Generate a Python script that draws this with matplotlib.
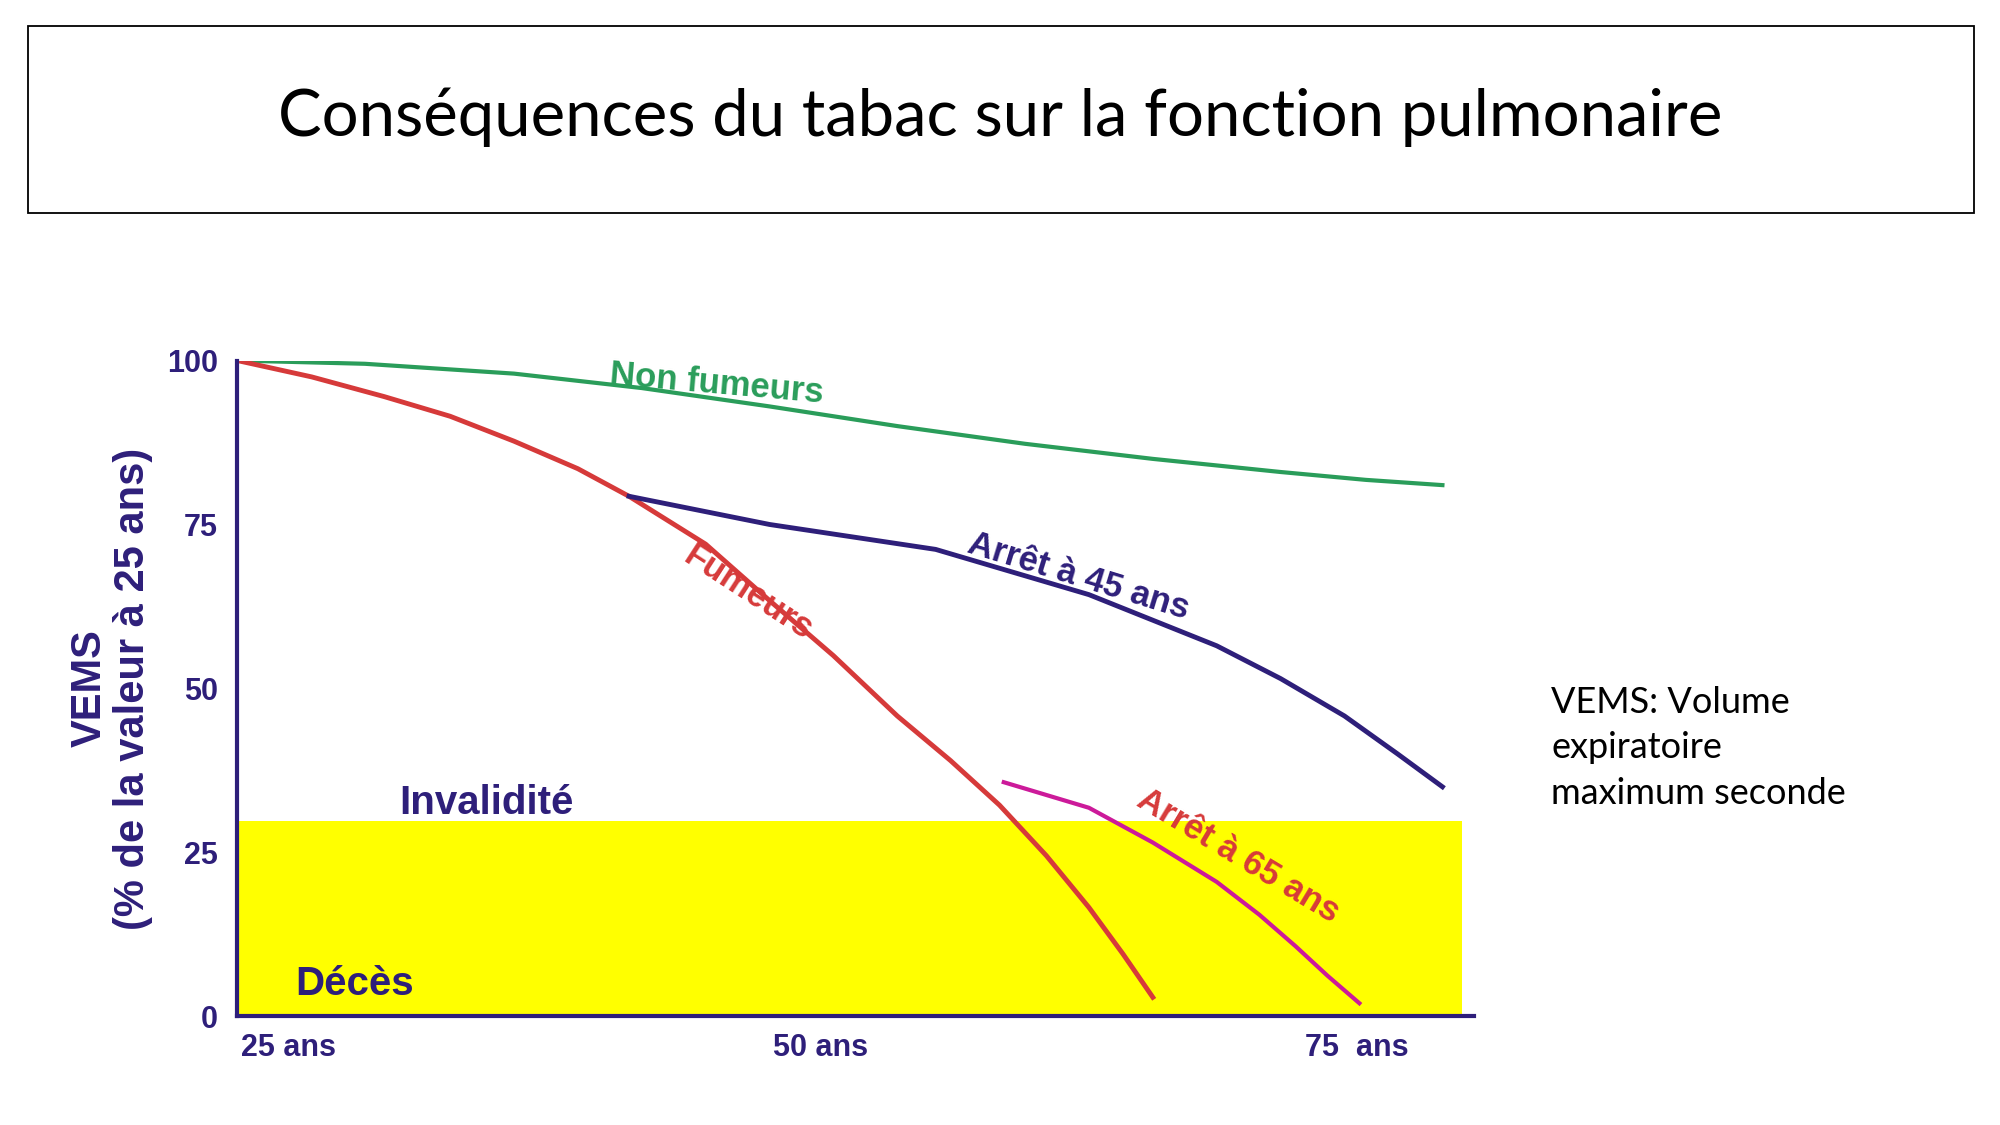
import matplotlib
matplotlib.use("Agg")
import matplotlib.pyplot as plt
from matplotlib.patches import Rectangle

# Data (age, VEMS %)
non_fumeurs_age = [25, 31, 38, 44, 50, 56, 62, 68, 74, 78, 81.6]
non_fumeurs_val = [100, 99.5, 98, 95.8, 93, 90, 87.3, 85, 83, 81.8, 81]
fumeurs_age = [25, 28.5, 31.9, 35, 38, 41, 43.4, 47, 50, 53, 56, 58.5, 60.8, 63, 65, 66.6, 68]
fumeurs_val = [100, 97.5, 94.5, 91.5, 87.7, 83.5, 79.3, 72, 63.4, 55, 45.8, 39, 32.2, 24.5, 16.6, 9.5, 2.9]
arret45_age = [43.4, 50, 57.8, 65, 71, 74, 77, 79.5, 81.6]
arret45_val = [79.3, 75, 71.2, 64.3, 56.5, 51.5, 45.8, 40, 35]
arret65_age = [61, 65, 68, 71, 73, 74.7, 76.2, 77.7]
arret65_val = [35.7, 31.8, 26.5, 20.5, 15.5, 10.7, 6.2, 2]
y_ticks = [0, 25, 50, 75, 100]
x_tick_labels = ["25 ans", "50 ans", "75  ans"]

fig = plt.figure(figsize=(20, 11.25), dpi=100)
SANS = ["Liberation Sans", "DejaVu Sans"]
TITLEF = ["Lato", "DejaVu Sans"]

# Title box
fig.patches.append(Rectangle((22/1560, 1-167/880), (1540-22)/1560, (167-20)/880,
                             transform=fig.transFigure, fill=False, lw=1.3, ec="black"))
fig.text(780/1560, 1-92/880, "Conséquences du tabac sur la fonction pulmonaire",
         ha="center", va="center", fontsize=47, family=TITLEF)
fig.text(1210/1560, 1-585/880, "VEMS: Volume\nexpiratoire\nmaximum seconde",
         ha="left", va="center", fontsize=26, family=TITLEF, linespacing=1.45)

ax = fig.add_axes([185/1560, 1-795/880, (1150-185)/1560, (795-282)/880])
ax.set_xlim(25, 83.1)
ax.set_ylim(0, 100)
navy = "#2e1f7a"
for s in ["top", "right"]:
    ax.spines[s].set_visible(False)
for s in ["left", "bottom"]:
    ax.spines[s].set_color(navy)
    ax.spines[s].set_linewidth(3)
ax.set_yticks(y_ticks)
ax.set_yticklabels([str(v) for v in y_ticks], fontsize=22, fontweight="bold",
                   color=navy, family=SANS)
ax.set_xticks([27.4, 52.4, 77.6])
ax.set_xticklabels(x_tick_labels, fontsize=22, fontweight="bold", color=navy, family=SANS)
ax.tick_params(length=0, pad=12)
ax.tick_params(axis="y", pad=14)
ax.set_ylabel("VEMS\n(% de la valeur à 25 ans)", fontsize=30, fontweight="bold",
              color=navy, family=SANS, labelpad=10, linespacing=1.1)

ax.add_patch(Rectangle((25, 0), 82.5-25, 29.8, color="#ffff00", zorder=0, lw=0))

ax.plot(non_fumeurs_age, non_fumeurs_val, color="#2a9d5a", lw=3)
ax.plot(fumeurs_age, fumeurs_val, color="#d63a3a", lw=3.5)
ax.plot(arret45_age, arret45_val, color=navy, lw=3.5)
ax.plot(arret65_age, arret65_val, color="#cc1a9a", lw=3)

kw = dict(fontsize=25, fontweight="bold", family=SANS, ha="center", va="center")
ax.text(47.5, 96.5, "Non fumeurs", color="#2a9d5a", rotation=-5, **kw)
ax.text(49, 64.5, "Fumeurs", color="#d63a3a", rotation=-33, **kw)
ax.text(64.5, 67, "Arrêt à 45 ans", color=navy, rotation=-17, **kw)
ax.text(72, 24.5, "Arrêt à 65 ans", color="#d63a3a", rotation=-31, **kw)
ax.text(36.7, 32.5, "Invalidité", color=navy, fontsize=29, fontweight="bold",
        family=SANS, ha="center", va="center")
ax.text(30.5, 5, "Décès", color=navy, fontsize=29, fontweight="bold",
        family=SANS, ha="center", va="center")

fig.savefig("out.png", dpi=100)
